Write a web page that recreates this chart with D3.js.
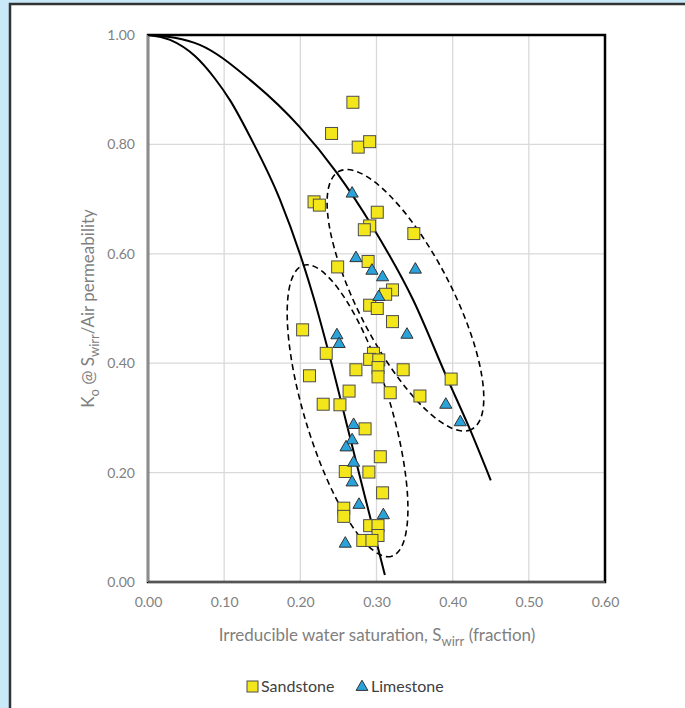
<!DOCTYPE html>
<html><head><meta charset="utf-8">
<script src="https://cdn.jsdelivr.net/npm/d3@7/dist/d3.min.js"></script>
<style>body{margin:0;background:#c9e9f9;}svg{display:block;}</style>
</head><body><svg id="c" width="685" height="708"></svg>
<script>
// ---- data ----
const xTicks = [0, 0.1, 0.2, 0.3, 0.4, 0.5, 0.6];
const yTicks = [0, 0.2, 0.4, 0.6, 0.8, 1.0];
const sandstoneSw = [0.269,0.241,0.276,0.291,0.218,0.225,0.301,0.291,0.284,0.349,0.249,0.289,0.321,0.312,0.291,0.301,0.321,0.203,0.234,0.296,0.291,0.303,0.302,0.273,0.335,0.302,0.212,0.264,0.318,0.357,0.398,0.230,0.252,0.285,0.305,0.259,0.290,0.308,0.257,0.257,0.291,0.302,0.302,0.282,0.294];
const sandstoneKo = [0.877,0.820,0.795,0.805,0.695,0.689,0.676,0.651,0.644,0.637,0.576,0.586,0.534,0.526,0.506,0.500,0.476,0.461,0.418,0.418,0.407,0.406,0.392,0.388,0.388,0.375,0.377,0.349,0.346,0.340,0.371,0.325,0.324,0.280,0.229,0.202,0.201,0.163,0.135,0.120,0.103,0.103,0.085,0.076,0.076];
const limestoneSw = [0.268,0.273,0.294,0.308,0.351,0.303,0.340,0.248,0.251,0.391,0.410,0.270,0.268,0.260,0.270,0.268,0.277,0.309,0.259];
const limestoneKo = [0.711,0.593,0.570,0.558,0.572,0.522,0.453,0.452,0.436,0.325,0.293,0.288,0.260,0.247,0.219,0.183,0.142,0.123,0.071];
const curveASw = [0,0.029,0.062,0.088,0.108,0.134,0.173,0.206,0.217,0.239,0.261,0.285,0.311];
const curveAKo = [1,0.991,0.961,0.920,0.880,0.814,0.700,0.572,0.522,0.410,0.288,0.155,0.013];
const curveBSw = [0,0.035,0.068,0.134,0.199,0.248,0.295,0.348,0.392,0.423,0.450];
const curveBKo = [1,0.995,0.982,0.918,0.832,0.748,0.649,0.516,0.375,0.278,0.186];
const ellipseSw = [0.338, 0.262];
const ellipseKo = [0.515, 0.313];

// ---- layout ----
const svg = d3.select("#c");
const L = 148, R = 605, T = 35, B = 582;
const x = d3.scaleLinear().domain([0, 0.6]).range([L, R]);
const y = d3.scaleLinear().domain([0, 1]).range([B, T]);
const font = "Lato, 'Open Sans', sans-serif";

svg.append("rect").attr("x", 10).attr("y", 4).attr("width", 700).attr("height", 720)
  .attr("fill", "#fff").attr("stroke", "#333").attr("stroke-width", 2.5);

// gridlines
svg.append("g").selectAll("line").data(xTicks.slice(1, -1)).join("line")
  .attr("x1", d => x(d)).attr("x2", d => x(d)).attr("y1", T).attr("y2", B)
  .attr("stroke", "#d9d9d9").attr("stroke-width", 1.3);
svg.append("g").selectAll("line").data(yTicks.slice(1, -1)).join("line")
  .attr("x1", L).attr("x2", R).attr("y1", d => y(d)).attr("y2", d => y(d))
  .attr("stroke", "#d9d9d9").attr("stroke-width", 1.3);

// plot border
svg.append("rect").attr("x", L).attr("y", T).attr("width", R - L).attr("height", B - T)
  .attr("fill", "none").attr("stroke", "#000").attr("stroke-width", 2.5);
svg.append("line").attr("x1", L).attr("x2", L).attr("y1", T).attr("y2", B).attr("stroke", "#8c8c8c").attr("stroke-width", 2);
svg.append("line").attr("x1", L).attr("x2", R).attr("y1", B).attr("y2", B).attr("stroke", "#555").attr("stroke-width", 2);

// axes
const xAxis = d3.axisBottom(x).tickValues(xTicks).tickFormat(d3.format(".2f")).tickSize(0).tickPadding(15);
const gx = svg.append("g").attr("transform", `translate(0,${B})`).call(xAxis);
const yAxis = d3.axisLeft(y).tickValues(yTicks).tickFormat(d3.format(".2f")).tickSize(0).tickPadding(13);
const gy = svg.append("g").attr("transform", `translate(${L},0)`).call(yAxis);
[gx, gy].forEach(g => {
  g.select(".domain").remove();
  g.selectAll("text").attr("font-family", font).attr("font-size", 14).attr("fill", "#7f7f7f");
});

// curves
const line = d3.line().x(d => x(d[0])).y(d => y(d[1])).curve(d3.curveMonotoneX);
svg.append("path").attr("d", line(d3.zip(curveASw, curveAKo))).attr("fill", "none").attr("stroke", "#000").attr("stroke-width", 2);
svg.append("path").attr("d", line(d3.zip(curveBSw, curveBKo))).attr("fill", "none").attr("stroke", "#000").attr("stroke-width", 2);

// ellipses
const ellStyle = [{rx: 145, ry: 47, a: 62.8}, {rx: 152, ry: 43, a: 73.1}];
svg.append("g").selectAll("ellipse").data(d3.zip(ellipseSw, ellipseKo)).join("ellipse")
  .attr("transform", (d, i) => `translate(${x(d[0])},${y(d[1])}) rotate(${ellStyle[i].a})`)
  .attr("rx", (d, i) => ellStyle[i].rx).attr("ry", (d, i) => ellStyle[i].ry)
  .attr("fill", "none").attr("stroke", "#000").attr("stroke-width", 1.6).attr("stroke-dasharray", "6,4");

// markers
const sq = 12;
svg.append("g").selectAll("rect").data(d3.zip(sandstoneSw, sandstoneKo)).join("rect")
  .attr("x", d => x(d[0]) - sq / 2).attr("y", d => y(d[1]) - sq / 2).attr("width", sq).attr("height", sq)
  .attr("fill", "#f3e61b").attr("stroke", "#4d4d4d").attr("stroke-width", 1);
const tri = d3.symbol().type(d3.symbolTriangle).size(64);
svg.append("g").selectAll("path").data(d3.zip(limestoneSw, limestoneKo)).join("path")
  .attr("d", tri).attr("transform", d => `translate(${x(d[0])},${y(d[1]) + 0.5})`)
  .attr("fill", "#2aa2da").attr("stroke", "#333").attr("stroke-width", 1);

// axis titles
const xt = svg.append("text").attr("x", 377).attr("y", 641).attr("text-anchor", "middle")
  .attr("font-family", font).attr("font-size", 17).attr("fill", "#7f7f7f");
xt.append("tspan").text("Irreducible water saturation, S");
xt.append("tspan").attr("font-size", 13).attr("dy", 5).text("wirr");
xt.append("tspan").attr("dy", -5).text(" (fraction)");

const yt = svg.append("text").attr("transform", `translate(94,${(T + B) / 2}) rotate(-90)`).attr("text-anchor", "middle")
  .attr("font-family", font).attr("font-size", 17).attr("fill", "#7f7f7f");
yt.append("tspan").text("K");
yt.append("tspan").attr("font-size", 13).attr("dy", 5).text("o");
yt.append("tspan").attr("dy", -5).text(" @ S");
yt.append("tspan").attr("font-size", 13).attr("dy", 5).text("wirr");
yt.append("tspan").attr("dy", -5).text("/Air permeability");

// legend
const lg = svg.append("g").attr("font-family", font).attr("font-size", 16).attr("fill", "#404040");
lg.append("rect").attr("x", 247).attr("y", 681).attr("width", 11).attr("height", 11)
  .attr("fill", "#f3e61b").attr("stroke", "#4d4d4d").attr("stroke-width", 1);
lg.append("text").attr("x", 261).attr("y", 692).text("Sandstone");
lg.append("path").attr("d", d3.symbol().type(d3.symbolTriangle).size(60)).attr("transform", "translate(362,687)")
  .attr("fill", "#2aa2da").attr("stroke", "#333").attr("stroke-width", 1);
lg.append("text").attr("x", 371).attr("y", 692).text("Limestone");
</script></body></html>
